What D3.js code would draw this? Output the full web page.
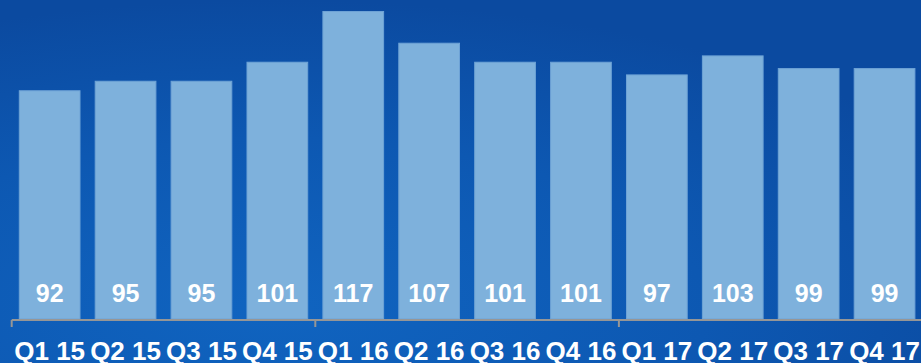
<!DOCTYPE html>
<html>
<head>
<meta charset="utf-8">
<style>
  html, body { margin: 0; padding: 0; overflow: hidden; }
  body { width: 921px; height: 363px; }
  text { font-family: "Liberation Sans", Arial, sans-serif; font-weight: bold; }
</style>
</head>
<body>
<div id="chart"></div>
<script src="https://cdn.jsdelivr.net/npm/d3@7"></script>
<script>
const quarters = ["Q1 15", "Q2 15", "Q3 15", "Q4 15", "Q1 16", "Q2 16", "Q3 16", "Q4 16", "Q1 17", "Q2 17", "Q3 17", "Q4 17"];
const values = [92, 95, 95, 101, 117, 107, 101, 101, 97, 103, 99, 99];
// year group boundaries (index of first quarter in each year, plus the end)
const groupEdges = [0, 4, 8, 12];

const width = 921, height = 363;
const baseline = 319;

const svg = d3.select("#chart")
  .append("svg")
    .attr("width", width)
    .attr("height", height);

// Background gradient.
const defs = svg.append("defs");
const grad = defs.append("radialGradient")
    .attr("id", "bg")
    .attr("cx", "30%").attr("cy", "85%").attr("r", "85%");
grad.append("stop").attr("offset", "0%").attr("stop-color", "#1064c0");
grad.append("stop").attr("offset", "55%").attr("stop-color", "#0d58b2");
grad.append("stop").attr("offset", "100%").attr("stop-color", "#0b4aa0");

svg.append("rect")
  .attr("width", width)
  .attr("height", height)
  .attr("fill", "url(#bg)");

const x = d3.scaleBand()
  .domain(quarters)
  .range([11.7, 11.7 + 12 * 75.9])
  .paddingInner(0.2)
  .paddingOuter(0.1);

const y = d3.scaleLinear()
  .domain([20, 120])
  .range([baseline, 2]);

// Bars.
svg.append("g")
  .selectAll("rect")
  .data(values)
  .join("rect")
    .attr("x", (d, i) => x(quarters[i]))
    .attr("y", d => y(d))
    .attr("width", x.bandwidth())
    .attr("height", d => baseline - y(d))
    .attr("fill", "#7eb1dc")
    .attr("stroke", "#6ea3d6")
    .attr("stroke-width", 1);

// Value labels inside the bars.
svg.append("g")
  .selectAll("text")
  .data(values)
  .join("text")
    .attr("x", (d, i) => x(quarters[i]) + x.bandwidth() / 2)
    .attr("y", 302)
    .attr("text-anchor", "middle")
    .attr("fill", "#ffffff")
    .attr("font-size", 25)
    .text(d => d);

// Axis line with ticks at year boundaries.
const step = x.step();
const x0 = x.range()[0];
const axis = svg.append("g")
  .attr("stroke", "#969696")
  .attr("stroke-width", 2)
  .attr("fill", "none");
axis.append("line")
  .attr("x1", x0).attr("x2", x0 + step * quarters.length)
  .attr("y1", 320).attr("y2", 320);
axis.selectAll("line.tick")
  .data(groupEdges)
  .join("line")
    .attr("class", "tick")
    .attr("x1", d => x0 + d * step).attr("x2", d => x0 + d * step)
    .attr("y1", 320).attr("y2", 327);

// Category labels.
svg.append("g")
  .selectAll("text")
  .data(quarters)
  .join("text")
    .attr("x", d => x(d) + x.bandwidth() / 2)
    .attr("y", 360)
    .attr("text-anchor", "middle")
    .attr("fill", "#ffffff")
    .attr("font-size", 26)
    .text(d => d);
</script>
</body>
</html>
